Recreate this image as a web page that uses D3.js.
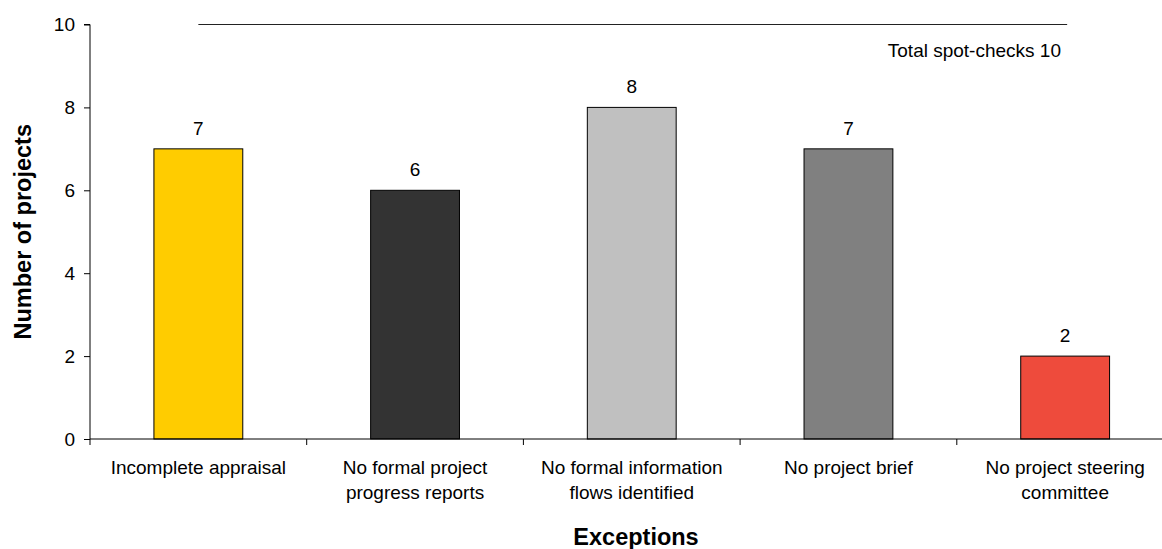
<!DOCTYPE html>
<html>
<head>
<meta charset="utf-8">
<script src="https://cdn.jsdelivr.net/npm/d3@7"></script>
<style>
  html, body { margin: 0; padding: 0; background: #fff; }
  svg { display: block; font-family: "Liberation Sans", Arial, sans-serif; }
</style>
</head>
<body>
<svg id="chart" width="1162" height="549"></svg>
<script>
// Exceptions found in project spot-checks
const categories = [
  ["Incomplete appraisal"],
  ["No formal project", "progress reports"],
  ["No formal information", "flows identified"],
  ["No project brief"],
  ["No project steering", "committee"]
];
const values = [7, 6, 8, 7, 2];
const barColors = ["#FFCC00", "#333333", "#C0C0C0", "#808080", "#EE4B3C"];
const yTicks = [0, 2, 4, 6, 8, 10];
const totalChecks = 10;
const totalLabel = "Total spot-checks 10";

const svg = d3.select("#chart");
const plotLeft = 90, plotRight = 1173.5, plotTop = 24.5, plotBottom = 439;
const fs = 19, titleFs = 23.5;

const x = d3.scaleBand()
  .domain(d3.range(categories.length))
  .range([plotLeft, plotRight])
  .padding(0);
const y = d3.scaleLinear().domain([0, 10]).range([plotBottom, plotTop]);
const barW = x.bandwidth() * 0.41;

// y axis
const yAxis = svg.append("g")
  .attr("transform", `translate(${plotLeft},0)`)
  .call(d3.axisLeft(y).tickValues(yTicks).tickSize(6).tickPadding(9).tickFormat(d3.format("d")));
yAxis.select(".domain").attr("stroke", "#000").attr("d", `M-6,${plotTop}H0V${plotBottom}`);
yAxis.selectAll(".tick line").attr("stroke", "#000");
yAxis.selectAll(".tick text").attr("font-size", fs).attr("fill", "#000")
  .attr("font-family", "Liberation Sans, Arial, sans-serif");

// bars
svg.append("g").selectAll("rect")
  .data(values)
  .join("rect")
  .attr("x", (d, i) => x(i) + (x.bandwidth() - barW) / 2)
  .attr("y", d => y(d))
  .attr("width", barW)
  .attr("height", d => y(0) - y(d))
  .attr("fill", (d, i) => barColors[i])
  .attr("stroke", "#000")
  .attr("stroke-width", 1);

// value labels
svg.append("g").selectAll("text")
  .data(values)
  .join("text")
  .attr("x", (d, i) => x(i) + x.bandwidth() / 2)
  .attr("y", d => y(d) - 14)
  .attr("text-anchor", "middle")
  .attr("font-size", fs)
  .attr("fill", "#000")
  .text(d => d);

// x axis line with category boundary ticks
const xg = svg.append("g");
xg.append("line")
  .attr("x1", plotLeft).attr("x2", plotRight)
  .attr("y1", plotBottom).attr("y2", plotBottom)
  .attr("stroke", "#000");
xg.selectAll("line.tick")
  .data(d3.range(categories.length + 1))
  .join("line")
  .attr("class", "tick")
  .attr("x1", i => plotLeft + i * x.step()).attr("x2", i => plotLeft + i * x.step())
  .attr("y1", plotBottom).attr("y2", plotBottom + 6)
  .attr("stroke", "#000");

// category labels
const catText = svg.append("g").selectAll("text")
  .data(categories)
  .join("text")
  .attr("text-anchor", "middle")
  .attr("font-size", fs)
  .attr("fill", "#000");
catText.selectAll("tspan")
  .data((d, i) => d.map(line => ({ line, i })))
  .join("tspan")
  .attr("x", d => x(d.i) + x.bandwidth() / 2)
  .attr("y", (d, j) => 474 + j * 25)
  .text(d => d.line);

// total spot-checks reference line
svg.append("line")
  .attr("x1", x(0) + x.bandwidth() / 2)
  .attr("x2", x(categories.length - 1) + x.bandwidth() / 2 + 2)
  .attr("y1", y(totalChecks)).attr("y2", y(totalChecks))
  .attr("stroke", "#222").attr("stroke-width", 1.2);
svg.append("text")
  .attr("x", 1061).attr("y", 57)
  .attr("text-anchor", "end")
  .attr("font-size", fs)
  .attr("fill", "#000")
  .text(totalLabel);

// axis titles
svg.append("text")
  .attr("transform", `translate(31,${(plotTop + plotBottom) / 2}) rotate(-90)`)
  .attr("text-anchor", "middle")
  .attr("font-size", titleFs)
  .attr("font-weight", "bold")
  .attr("fill", "#000")
  .text("Number of projects");
svg.append("text")
  .attr("x", 636).attr("y", 545)
  .attr("text-anchor", "middle")
  .attr("font-size", titleFs)
  .attr("font-weight", "bold")
  .attr("fill", "#000")
  .text("Exceptions");
</script>
</body>
</html>
